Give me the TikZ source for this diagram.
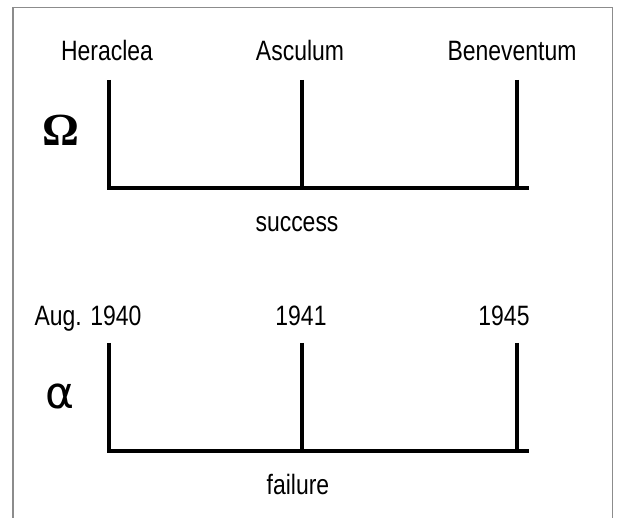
\documentclass[tikz,border=0pt]{standalone}
\usepackage{fontspec}
\setmainfont[FakeStretch=0.82]{Liberation Sans}
\newfontfamily\omegafont{Liberation Serif}
\newfontfamily\alphafont{DejaVu Sans}
\begin{document}
\begin{tikzpicture}[x=1pt, y=1pt, font=\fontsize{28}{32}\selectfont, line join=miter,
	bar/.style={line width=3.6pt},
	lbl/.style={anchor=base, inner sep=0pt}]
	\def\xa{109} \def\xb{302} \def\xc{517} \def\xe{529} % positions
	\def\ytop{438} \def\ylow{330} % upper line
	\def\btop{175} \def\blow{67} % lower line
	\useasboundingbox (0,0) rectangle (619,518);
	\draw[gray!90, line width=1.2pt] (13,0)--(13,510.5)--(612.5,510.5)--(612.5,0);
	% upper: wars of Pyrrhus
	\node[lbl] (heraclea) at (107,457) {Heraclea};
	\node[lbl] (asculum) at (300,457) {Asculum};
	\node[lbl] (beneventum) at (512,457) {Beneventum};
	\node (omega) at (61,388) {\omegafont\bfseries\fontsize{46}{48}\selectfont Ω};
	\coordinate (ua) at (\xa,\ytop); \coordinate (la) at (\xa,\ylow);
	\coordinate (ub) at (\xb,\ytop); \coordinate (lb) at (\xb,\ylow);
	\coordinate (uc) at (\xc,\ytop); \coordinate (lc) at (\xc,\ylow);
	\coordinate (le) at (\xe,\ylow);
	\draw[bar] (ua)--(la)--(le);
	\draw[bar] (ub)--(lb);
	\draw[bar] (uc)--(lc);
	\node[lbl] (success) at (297,286) {success};
	% lower: the war years
	\node[lbl] (aug) at (88,192) {Aug. 1940};
	\node[lbl] (y41) at (301,192) {1941};
	\node[lbl] (y45) at (504,192) {1945};
	\node (alpha) at (60,122) {\alphafont\fontsize{44}{46}\selectfont α};
	\coordinate (va) at (\xa,\btop); \coordinate (wa) at (\xa,\blow);
	\coordinate (vb) at (\xb,\btop); \coordinate (wb) at (\xb,\blow);
	\coordinate (vc) at (\xc,\btop); \coordinate (wc) at (\xc,\blow);
	\coordinate (we) at (\xe,\blow);
	\draw[bar] (va)--(wa)--(we);
	\draw[bar] (vb)--(wb);
	\draw[bar] (vc)--(wc);
	\node[lbl] (failure) at (298,23) {failure};
\end{tikzpicture}
\end{document}
